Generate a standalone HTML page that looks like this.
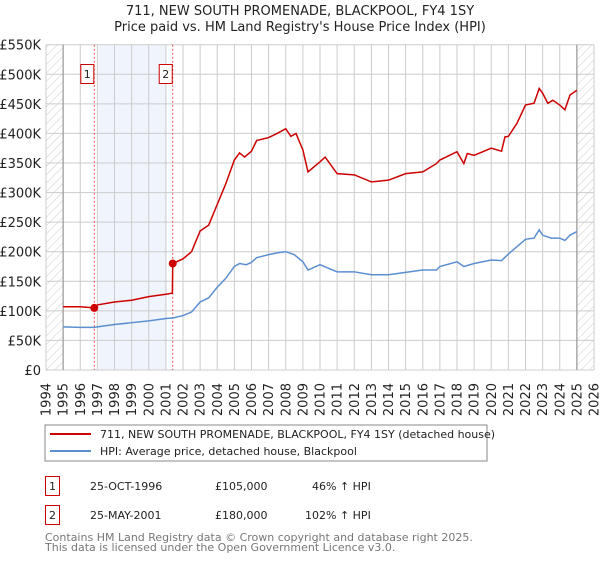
<!DOCTYPE html>
<html><head><meta charset="utf-8"><style>
body{margin:0;background:#fff;width:600px;height:560px;overflow:hidden;font-family:"DejaVu Sans","Liberation Sans",sans-serif}
svg text{font-family:"DejaVu Sans","Liberation Sans",sans-serif}
</style></head><body>
<svg id="c" width="600" height="560" xmlns="http://www.w3.org/2000/svg">
<defs><pattern id="hatch" width="6" height="6" patternUnits="userSpaceOnUse" patternTransform="rotate(45)"><line x1="0" y1="0" x2="0" y2="6" stroke="#ccc" stroke-width="1"/></pattern></defs>
<text x="300" y="15" text-anchor="middle" font-size="13" fill="#222">711, NEW SOUTH PROMENADE, BLACKPOOL, FY4 1SY</text>
<text x="300" y="31" text-anchor="middle" font-size="13" fill="#222">Price paid vs. HM Land Registry's House Price Index (HPI)</text>
<g id="plot"></g>
<rect x="45" y="425" width="442" height="36" fill="#fff" stroke="#888"/>
<line x1="50" y1="434" x2="91" y2="434" stroke="#cc0000" stroke-width="2"/>
<text x="100" y="438" font-size="11" fill="#222">711, NEW SOUTH PROMENADE, BLACKPOOL, FY4 1SY (detached house)</text>
<line x1="50" y1="451" x2="91" y2="451" stroke="#5b8fd0" stroke-width="2"/>
<text x="100" y="455" font-size="11" fill="#222">HPI: Average price, detached house, Blackpool</text>
<g>
<rect x="45.5" y="476.5" width="14" height="19" fill="#fff" stroke="#cc0000"/>
<text x="52.5" y="490" text-anchor="middle" font-size="11" fill="#222">1</text>
<text x="90" y="490" font-size="11" fill="#222">25-OCT-1996</text>
<text x="215" y="490" font-size="11" fill="#222">£105,000</text>
<text x="312" y="490" font-size="11" fill="#222">46% ↑ HPI</text></g>
<g>
<rect x="45.5" y="505.5" width="14" height="19" fill="#fff" stroke="#cc0000"/>
<text x="52.5" y="519" text-anchor="middle" font-size="11" fill="#222">2</text>
<text x="90" y="519" font-size="11" fill="#222">25-MAY-2001</text>
<text x="215" y="519" font-size="11" fill="#222">£180,000</text>
<text x="305" y="519" font-size="11" fill="#222">102% ↑ HPI</text></g>
<text x="45" y="541" font-size="11" fill="#777">Contains HM Land Registry data © Crown copyright and database right 2025.</text>
<text x="45" y="551" font-size="11" fill="#777">This data is licensed under the Open Government Licence v3.0.</text>
</svg>
<script>
const yTicks=[0,50,100,150,200,250,300,350,400,450,500,550];
const yLabels=["£0","£50K","£100K","£150K","£200K","£250K","£300K","£350K","£400K","£450K","£500K","£550K"];
const years=[1994,1995,1996,1997,1998,1999,2000,2001,2002,2003,2004,2005,2006,2007,2008,2009,2010,2011,2012,2013,2014,2015,2016,2017,2018,2019,2020,2021,2022,2023,2024,2025,2026];
const hpiT=[1995,1996,1996.8,1997,1998,1999,2000,2001,2001.4,2002,2002.5,2003,2003.5,2004,2004.5,2005,2005.3,2005.7,2006,2006.3,2007,2007.5,2008,2008.5,2009,2009.3,2010,2010.5,2011,2012,2013,2014,2015,2016,2016.8,2017,2018,2018.4,2019,2020,2020.6,2021,2022,2022.5,2022.8,2023,2023.5,2024,2024.3,2024.6,2025];
const hpiV=[73,72,72,73,77,80,83,87,88,92,98,115,122,140,155,175,180,178,182,190,195,198,200,195,183,169,178,172,166,166,161,161,165,169,169,175,183,175,180,186,185,196,221,223,237,228,223,223,219,228,234];
const propT=[1995,1996,1996.8,1997,1998,1999,2000,2001,2001.38,2001.4,2002,2002.5,2003,2003.5,2004,2004.5,2005,2005.3,2005.6,2006,2006.3,2007,2007.5,2008,2008.3,2008.6,2009,2009.3,2010,2010.3,2011,2012,2013,2014,2015,2016,2016.8,2017,2018,2018.4,2018.6,2019,2020,2020.6,2020.8,2021,2021.5,2022,2022.5,2022.8,2023,2023.3,2023.6,2024,2024.3,2024.6,2025];
const propV=[107,107,105,110,115,118,124,128,130,180,188,200,235,245,280,315,355,367,360,370,388,393,400,408,395,400,372,335,352,360,332,330,318,321,332,335,349,355,369,349,366,363,375,370,394,395,417,448,451,476,468,451,456,448,440,465,473];
const saleT=[1996.82,2001.4];
const saleV=[105,180];
const saleLabels=["1","2"];
const shadeT=[1997.05,2001.05];

const X0=46,X1=594,Y0=370,Y1=44.7;
const x=t=>X0+(t-1994)/(2026-1994)*(X1-X0);
const y=v=>Y0-v/550*(Y0-Y1);
const NS="http://www.w3.org/2000/svg";
const g=document.getElementById('plot');
function mk(tag,attrs,parent){const e=document.createElementNS(NS,tag);for(const k in attrs)e.setAttribute(k,attrs[k]);(parent||g).appendChild(e);return e;}

let e;
e=mk('rect',{x:x(1994),y:Y1,width:x(1995)-x(1994),height:Y0-Y1,fill:'url(#hatch)'});


e=mk('rect',{x:x(2025),y:Y1,width:x(2026)-x(2025),height:Y0-Y1,fill:'url(#hatch)'});


e=mk('rect',{x:x(shadeT[0]),y:Y1,width:x(shadeT[1])-x(shadeT[0]),height:Y0-Y1,fill:'#f0f4fd'});



years.forEach(yr=>{
  e=mk('line',{x1:x(yr),x2:x(yr),y1:Y1,y2:Y0,stroke:'#ccc','stroke-width':1});
  
  
  const tx=x(yr)+4.5;
  e=mk('text',{x:tx,y:383,transform:`rotate(-90 ${tx} 383)`,'text-anchor':'end','font-size':13,fill:'#222'});
  e.textContent=yr;
  
  
});
yTicks.forEach((v,i)=>{
  e=mk('line',{x1:X0,x2:X1,y1:y(v),y2:y(v),stroke:'#ccc','stroke-width':1});
  
  
  e=mk('text',{x:41,y:y(v)+5,'text-anchor':'end','font-size':13,fill:'#222'});
  e.textContent=yLabels[i];
  
  
});
e=mk('line',{x1:x(1995),x2:x(1995),y1:Y1,y2:Y0,stroke:'#999','stroke-width':1.2});


e=mk('line',{x1:x(2025),x2:x(2025),y1:Y1,y2:Y0,stroke:'#999','stroke-width':1.2});



saleT.forEach((t,i)=>{
  e=mk('line',{x1:x(t),x2:x(t),y1:Y1,y2:Y0,stroke:'#e05555','stroke-width':1,'stroke-dasharray':'2,2'});
  
  
  e=mk('rect',{x:x(t)-13.5,y:64.5,width:13,height:19,fill:'#fff',stroke:'#cc0000'});
  
  
  e=mk('text',{x:x(t)-7,y:78,'text-anchor':'middle','font-size':11,fill:'#222'});
  e.textContent=saleLabels[i];
  
  
});

e=mk('polyline',{points:hpiT.map((t,i)=>x(t)+','+y(hpiV[i])).join(' '),fill:'none',stroke:'#5b8fd0','stroke-width':1.5});


e=mk('polyline',{points:propT.map((t,i)=>x(t)+','+y(propV[i])).join(' '),fill:'none',stroke:'#cc0000','stroke-width':1.5});


saleT.forEach((t,i)=>{
  e=mk('circle',{cx:x(t),cy:y(saleV[i]),r:4,fill:'#cc0000'});
  
  
});
</script>
</body></html>
